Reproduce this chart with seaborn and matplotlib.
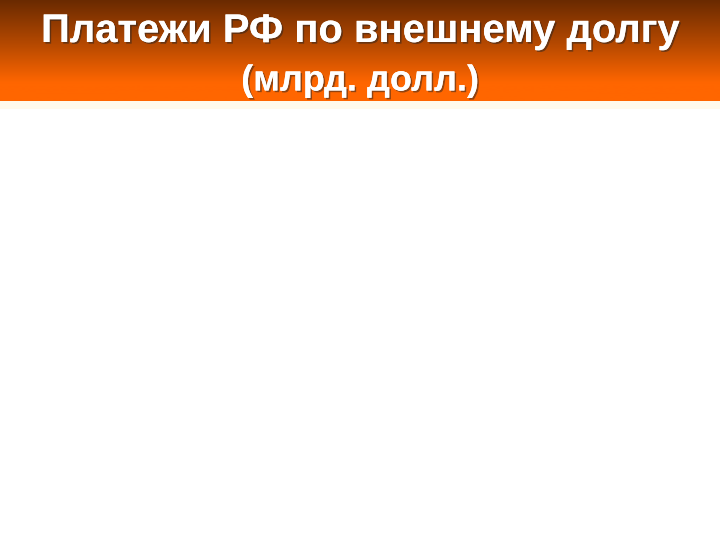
import numpy as np
import matplotlib
matplotlib.use("Agg")
import matplotlib.pyplot as plt
import matplotlib.patheffects as pe
from matplotlib.colors import LinearSegmentedColormap
import seaborn as sns

# Slide content (the reference shows only the header; the body is empty)
title_lines = ["Платежи РФ по внешнему долгу", "(млрд. долл.)"]
header_colors = ["#6a2a00", "#b84a00", "#ff6600", "#ff6600"]
header_stops = [0.0, 0.45, 0.82, 1.0]

sns.set_theme(style="white")
plt.rcParams['font.family'] = ['Liberation Sans', 'DejaVu Sans']

fig = plt.figure(figsize=(7.2, 5.4), dpi=100)
fig.patch.set_facecolor("white")

# header band (top 101 px of 540)
hh = 101 / 540
hax = fig.add_axes([0, 1 - hh, 1, hh])
cmap = LinearSegmentedColormap.from_list("hdr", list(zip(header_stops, header_colors)))
grad = np.linspace(0, 1, 256).reshape(-1, 1)
hax.imshow(grad, aspect="auto", cmap=cmap, extent=[0, 1, 1, 0])
hax.set_xlim(0, 1)
hax.set_ylim(1, 0)
hax.axis("off")

# thin light band under header
lax = fig.add_axes([0, 1 - 109 / 540, 1, 8 / 540])
lax.axis("off")
lax.add_patch(plt.Rectangle((0, 0), 1, 1, color="#fffaec", transform=lax.transAxes))

shadow = [pe.withSimplePatchShadow(offset=(1.2, -1.2), shadow_rgbFace="#222222", alpha=0.5), pe.Normal()]
fig.text(0.5, 1 - 31 / 540, title_lines[0], ha="center", va="center",
         fontsize=28.8, fontweight="bold", color="white", path_effects=shadow)
fig.text(0.5, 1 - 81 / 540, title_lines[1], ha="center", va="center",
         fontsize=26, fontweight="bold", color="white", path_effects=shadow)

fig.savefig("out.png", dpi=100)
